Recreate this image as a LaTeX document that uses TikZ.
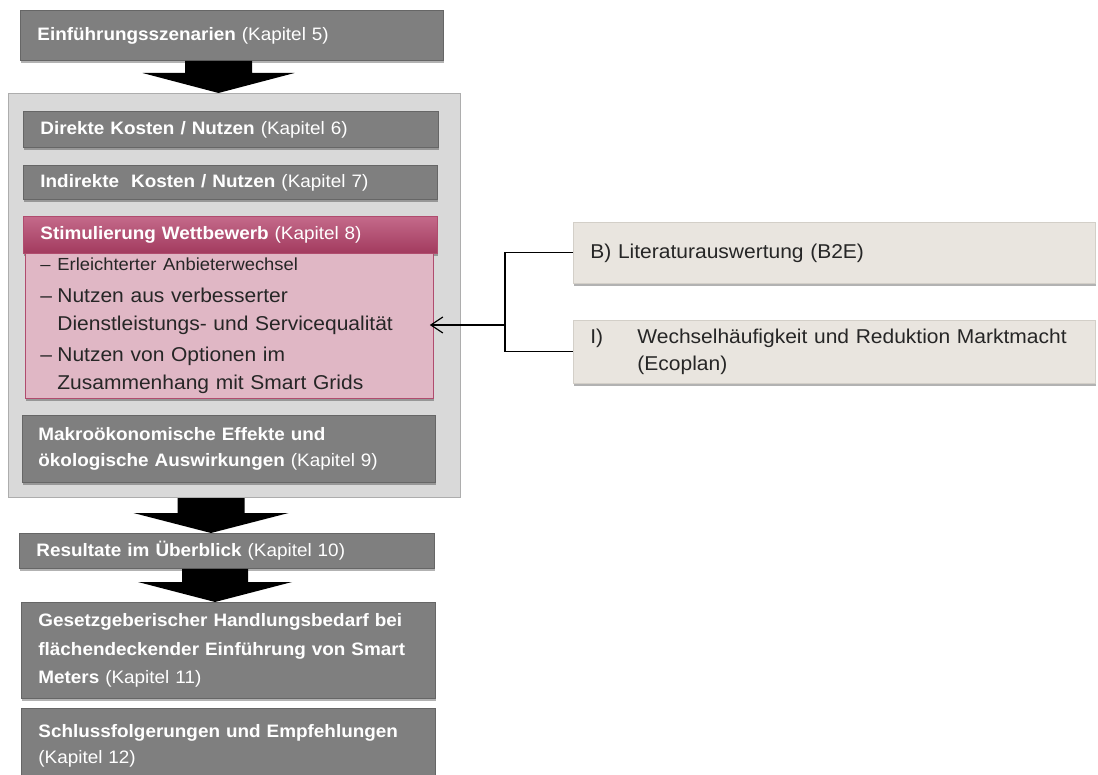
\documentclass[tikz,border=0pt]{standalone}
\usepackage{fontspec}
\setmainfont{Liberation Sans}[FakeStretch=1.05]
\usetikzlibrary{calc,shadows,arrows.meta}
\definecolor{gfill}{HTML}{7F7F7F}
\definecolor{gdraw}{HTML}{666666}
\definecolor{contfill}{HTML}{D9D9D9}
\definecolor{contdraw}{HTML}{ADADAD}
\definecolor{pinktop}{HTML}{C46A8A}
\definecolor{pinkbot}{HTML}{A23A5E}
\definecolor{pinkbody}{HTML}{E0B7C5}
\definecolor{pinkdraw}{HTML}{B04C6E}
\definecolor{beige}{HTML}{E9E5DF}
\definecolor{beigedraw}{HTML}{D3CFC8}
\definecolor{darktext}{HTML}{262626}
\newcommand\blkarrow[5]{%
  \fill[black] let \p1=(#1.south), \p2=(#2.north) in
    ({(#3-#4)*1pt},\y1) -- ({(#3+#4)*1pt},\y1) -- ({(#3+#4)*1pt},\y2+20pt)
    -- ({(#3+#5)*1pt},\y2+20pt) -- ({#3*1pt},\y2) -- ({(#3-#5)*1pt},\y2+20pt)
    -- ({(#3-#4)*1pt},\y2+20pt) -- cycle;}
\begin{document}
\begin{tikzpicture}[x=1pt,y=-1pt,
  shad/.style={drop shadow={shadow xshift=0.5pt,shadow yshift=-3pt,opacity=0.3,fill=black}},
  base/.style={anchor=north west, inner xsep=17pt, inner ysep=0pt, align=left, line width=0.8pt},
  gbox/.style={base, shad, fill=gfill, draw=gdraw, text=white, font=\fontsize{18}{26}\selectfont},
  cbox/.style={base, fill=contfill, draw=contdraw, line width=1pt},
  phead/.style={base, shad, top color=pinktop, bottom color=pinkbot, draw=pinkdraw, text=white, font=\fontsize{18}{26}\selectfont},
  pbody/.style={base, shad, fill=pinkbody, draw=pinkdraw, text=darktext, font=\fontsize{20}{28}\selectfont},
  rbox/.style={base, shad, fill=beige, draw=beigedraw, text=darktext, font=\fontsize{20}{27}\selectfont},
  conn/.style={draw=black, line width=1.2pt}
]
\useasboundingbox (0,0) rectangle (1098,775);

\node[gbox, minimum width=423pt, minimum height=50pt, text width=389pt] (einf) at (20,10)
  {\textbf{Einführungsszenarien} (Kapitel 5)};

\node[cbox, minimum width=452pt, minimum height=404pt] (cont) at (8,93) {};

\node[gbox, minimum width=415pt, minimum height=36pt, text width=381pt] (direkt) at (23,111)
  {\textbf{Direkte Kosten / Nutzen} (Kapitel 6)};
\node[gbox, minimum width=414pt, minimum height=34pt, text width=380pt] (indirekt) at (23,165)
  {\textbf{Indirekte\ \ Kosten / Nutzen} (Kapitel 7)};
\node[phead, minimum width=414pt, minimum height=37pt, text width=380pt] (stimhead) at (23,216)
  {\textbf{Stimulierung Wettbewerb} (Kapitel 8)};
\node[pbody, minimum width=408pt, minimum height=145pt, text width=378pt, inner xsep=15pt] (stimbody) at (25,253)
  {{\fontsize{17.5}{20}\selectfont\makebox[17pt][l]{–}Erleichterter Anbieterwechsel}\\[4pt]
   \makebox[17pt][l]{–}Nutzen aus verbesserter\\
   \hspace*{17pt}\mbox{Dienstleistungs- und Servicequalität}\\[3pt]
   \makebox[17pt][l]{–}Nutzen von Optionen im\\
   \hspace*{17pt}\mbox{Zusammenhang mit Smart Grids}};
\node[gbox, minimum width=413pt, minimum height=67pt, text width=381pt, inner xsep=16pt] (makro) at (22,415)
  {\textbf{Makroökonomische Effekte und}\\\mbox{\textbf{ökologische Auswirkungen} (Kapitel 9)}};

\node[gbox, minimum width=415pt, minimum height=35pt, text width=381pt] (result) at (19,533)
  {\textbf{Resultate im Überblick} (Kapitel 10)};
\node[gbox, minimum width=414pt, minimum height=96pt, text width=380pt, font=\fontsize{18}{28.5}\selectfont] (gesetz) at (21,602)
  {\mbox{\textbf{Gesetzgeberischer Handlungsbedarf bei}}\\
   \mbox{\textbf{flächendeckender Einführung von Smart}}\\
   \textbf{Meters} (Kapitel 11)};
\node[gbox, minimum width=414pt, minimum height=74pt, text width=380pt] (schluss) at (21,708)
  {\mbox{\textbf{Schlussfolgerungen und Empfehlungen}}\\(Kapitel 12)};

\node[rbox, minimum width=522pt, minimum height=61pt, text width=488pt] (lit) at (573,222)
  {B) Literaturauswertung (B2E)};
\node[rbox, minimum width=522pt, minimum height=63pt, text width=488pt] (wech) at (573,320)
  {\makebox[47pt][l]{I)}\mbox{Wechselhäufigkeit und Reduktion Marktmacht}\\\hspace*{47pt}(Ecoplan)};

\coordinate (jx) at (505,325);
\draw[conn] (lit.west) -| (jx) |- (wech.west);
\draw[conn, -{Straight Barb[length=12pt,width=16pt]}, shorten >=-4pt] (jx) -- (jx -| stimbody.east);

\blkarrow{einf}{cont}{218.5}{33.5}{76}
\blkarrow{cont}{result}{211}{33.5}{77.5}
\blkarrow{result}{gesetz}{215}{33}{77}
\end{tikzpicture}
\end{document}
